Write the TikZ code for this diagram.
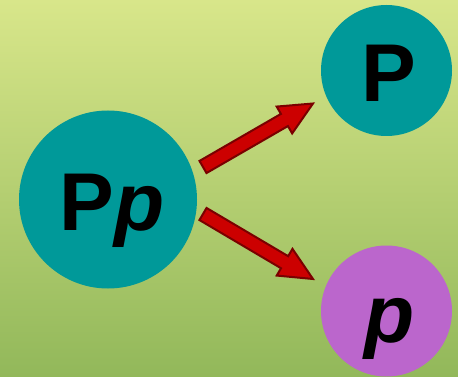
\documentclass[tikz,border=0pt]{standalone}
\usepackage{fontspec}
\setmainfont{Liberation Sans}
\usetikzlibrary{calc}
\definecolor{bgtop}{HTML}{D8E68A}
\definecolor{bgbot}{HTML}{92B85A}
\definecolor{tealc}{HTML}{009999}
\definecolor{purplec}{HTML}{BB66CC}
\definecolor{arrowfill}{HTML}{CC0000}
\definecolor{arrowline}{HTML}{7A0000}
\newcommand\blockarrowdraw[2]{%
  \coordinate (hb) at ($(#2)!33pt!(#1)$);
  \draw[blockarrow] ($(#1)!7pt!90:(#2)$) -- ($(hb)!7pt!90:(#2)$) -- ($(hb)!15.5pt!90:(#2)$) -- (#2)
    -- ($(hb)!15.5pt!-90:(#2)$) -- ($(hb)!7pt!-90:(#2)$) -- ($(#1)!7pt!-90:(#2)$) -- cycle;}
\begin{document}
\begin{tikzpicture}[x=1pt,y=-1pt,
  ball/.style={circle, inner sep=0pt, font=\fontsize{82}{82}\selectfont\bfseries, text height=62pt, text depth=0pt},
  blockarrow/.style={fill=arrowfill, draw=arrowline, line width=2pt, line join=miter}]
\fill[top color=bgtop, bottom color=bgbot] (0,0) rectangle (458,377);
\useasboundingbox (0,0) rectangle (458,377);
\node[ball, fill=tealc, minimum size=178pt] (pp) at (108,199.5) {\kern8pt P\textit{p}};
\node[ball, fill=tealc, minimum size=131pt] (P) at (386.5,70.5) {\kern4pt P};
\node[ball, fill=purplec, minimum size=131pt] (p) at (386.5,311) {\kern7pt\textit{p}};
\coordinate (a1s) at (203,167);
\coordinate (a1e) at (313,103.5);
\coordinate (a2s) at (203,214);
\coordinate (a2e) at (313,279);
\blockarrowdraw{a1s}{a1e}
\blockarrowdraw{a2s}{a2e}
\end{tikzpicture}
\end{document}
